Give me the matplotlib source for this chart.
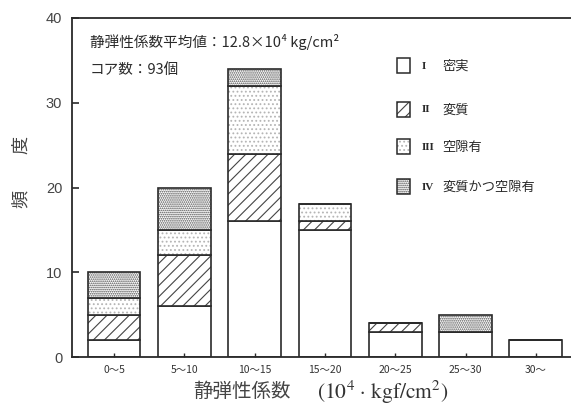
import matplotlib
matplotlib.use("Agg")
import matplotlib.pyplot as plt
from matplotlib.patches import Rectangle
import numpy as np

plt.rcParams['font.family'] = ['Noto Sans CJK JP', 'DejaVu Sans']
plt.rcParams['hatch.linewidth'] = 0.8
plt.rcParams['mathtext.fontset'] = 'stix'

categories = ["0～5", "5～10", "10～15", "15～20", "20～25", "25～30", "30～"]
s1_dense = [2, 6, 16, 15, 3, 3, 2]       # I 密実
s2_altered = [3, 6, 8, 1, 1, 0, 0]      # II 変質
s3_voids = [2, 3, 8, 2, 0, 0, 0]        # III 空隙有
s4_both = [3, 5, 2, 0, 0, 2, 0]         # IV 変質かつ空隙有
series = [s1_dense, s2_altered, s3_voids, s4_both]
numerals = ["I", "II", "III", "IV"]
names = ["密実", "変質", "空隙有", "変質かつ空隙有"]
yticks = [0, 10, 20, 30, 40]

ink = "#2a2a2a"
styles = [
    dict(hatch=None, hc=ink),
    dict(hatch="///", hc="#444444"),
    dict(hatch="....", hc="#b5b5b5"),
    dict(hatch="........", hc="#4a4a4a"),
]

fig = plt.figure(figsize=(5.71, 4.09), dpi=100)
ax = fig.add_axes([0.126, 0.127, 0.874, 0.829])

x = np.arange(len(categories))
w = 0.75
bottom = np.zeros(len(categories))
for vals, st in zip(series, styles):
    vals = np.array(vals, dtype=float)
    if st["hatch"]:
        ax.bar(x, vals, w, bottom=bottom, color="white", edgecolor=st["hc"],
               hatch=st["hatch"], linewidth=0)
    ax.bar(x, vals, w, bottom=bottom, color="none", edgecolor=ink, linewidth=1.2)
    bottom += vals

ax.set_xlim(-0.6, 6.5)
ax.set_ylim(0, 40)
ax.set_yticks(yticks)
ax.set_yticklabels([str(t) for t in yticks], family=['Liberation Sans'], fontsize=10.5, color="#444444")
ax.set_xticks(x)
ax.set_xticklabels(categories, fontsize=7.5, color="#333333")
ax.tick_params(axis='y', direction='in', length=5, width=1.2, color=ink, pad=7)
ax.tick_params(axis='x', direction='in', length=3, width=1, color=ink, pad=6)
for s in ['left', 'bottom', 'top']:
    ax.spines[s].set_linewidth(1.3)
    ax.spines[s].set_color(ink)
ax.spines['right'].set_visible(False)

ax.text(0.036, 0.929, "静弾性係数平均値：12.8×10⁴ kg/cm²", transform=ax.transAxes,
        fontsize=10.5, va='center', ha='left', color=ink,
        family=['Noto Sans CJK JP', 'DejaVu Sans'])
ax.text(0.036, 0.847, "コア数：93個", transform=ax.transAxes,
        fontsize=10.5, va='center', ha='left', color=ink)

# legend (manual)
leg_y = [0.858, 0.729, 0.619, 0.501]
for yy, st, num, nm in zip(leg_y, styles, numerals, names):
    r = Rectangle((0.652, yy - 0.021), 0.025, 0.044, transform=ax.transAxes,
                  facecolor="white", edgecolor=st["hc"], hatch=st["hatch"],
                  linewidth=0)
    ax.add_patch(r)
    r2 = Rectangle((0.652, yy - 0.021), 0.025, 0.044, transform=ax.transAxes,
                   facecolor="none", edgecolor=ink, linewidth=1.1)
    ax.add_patch(r2)
    ax.text(0.700, yy, num, transform=ax.transAxes, fontsize=8, va='center',
            ha='left', color=ink, family=['Liberation Serif'], fontweight='bold')
    ax.text(0.743, yy, nm, transform=ax.transAxes, fontsize=9.5, va='center',
            ha='left', color=ink)

fig.text(0.038, 0.58, "頻　　度", rotation=90, fontsize=13, va='center', ha='center', color="#444444")
fig.text(0.338, 0.042, "静弾性係数", fontsize=14, va='center', ha='left', color="#444444")
fig.text(0.555, 0.042, r"(10$^4$ · kgf/cm$^2$)", fontsize=15.5, va='center', ha='left', color="#333333",
         family=['STIXGeneral', 'Liberation Serif', 'DejaVu Serif'])

fig.savefig("out.png", dpi=100, facecolor="white")
